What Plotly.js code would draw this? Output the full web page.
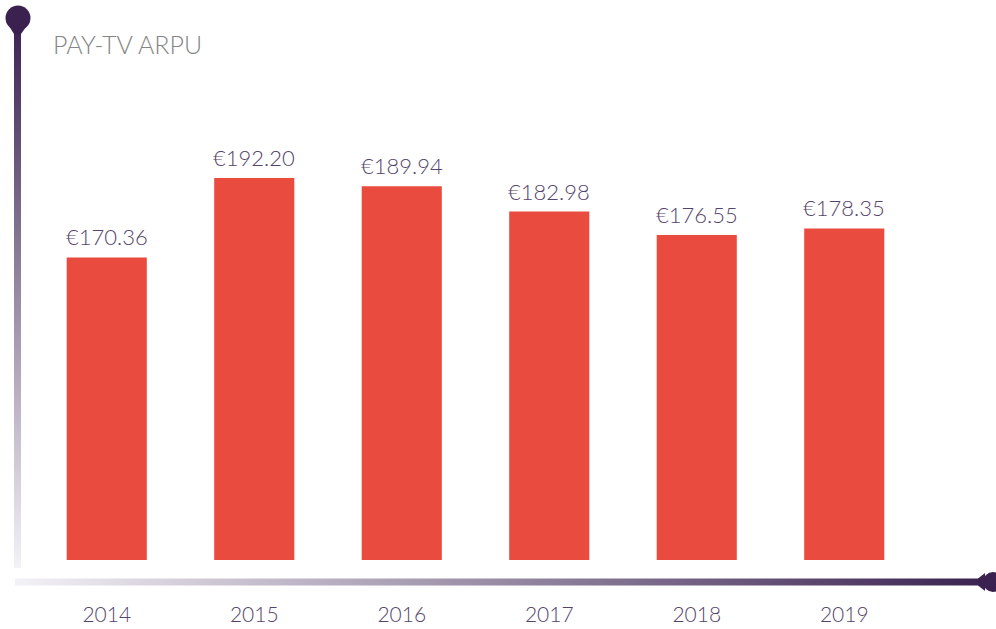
<!DOCTYPE html>
<html>
<head>
<meta charset="utf-8">
<script src="https://cdn.plot.ly/plotly-3.0.1.min.js"></script>
<style>html,body{margin:0;padding:0;background:#fff;}#chart{width:996px;height:629px;}</style>
</head>
<body>
<div id="chart"></div>
<script>
const years = ["2014", "2015", "2016", "2017", "2018", "2019"];
const arpu = [170.36, 192.20, 189.94, 182.98, 176.55, 178.35];
const valueLabels = ["€170.36", "€192.20", "€189.94", "€182.98", "€176.55", "€178.35"];
const chartTitle = "PAY-TV ARPU";

const W = 996, H = 629;
const M = {l: 33, r: 78, t: 100, b: 69};
const pw = W - M.l - M.r, ph = H - M.t - M.b;

const dark = "#3a2150";
const light = "#f3f2f6";
const deco = `<svg xmlns="http://www.w3.org/2000/svg" width="${W}" height="${H}" viewBox="0 0 ${W} ${H}">
<defs>
<linearGradient id="gv" x1="0" y1="0" x2="0" y2="1"><stop offset="0" stop-color="${dark}"/><stop offset="1" stop-color="${light}"/></linearGradient>
<linearGradient id="gh" x1="0" y1="0" x2="1" y2="0"><stop offset="0" stop-color="${light}"/><stop offset="1" stop-color="${dark}"/></linearGradient>
</defs>
<rect x="14" y="18" width="7" height="550" fill="url(#gv)"/>
<rect x="15" y="578.5" width="975" height="7" fill="url(#gh)"/>
<circle cx="18" cy="18" r="12.5" fill="${dark}"/>
<path d="M6.5 22 L14 34 L21 34 L29.5 22 Z" fill="${dark}"/>
<circle cx="993" cy="582" r="10" fill="${dark}"/>
<path d="M985 573 L978 578.5 L978 585.5 L985 591 Z" fill="${dark}"/>
</svg>`;
const decoSrc = "data:image/svg+xml;charset=utf-8," + encodeURIComponent(deco);

const textColor = "#55446c";
const fontFam = "Lato, 'Open Sans', sans-serif";
const annotations = years.map((y, i) => ({
  x: i, y: arpu[i], xref: "x", yref: "y",
  text: valueLabels[i], showarrow: false,
  yanchor: "bottom", yshift: 5,
  font: {family: fontFam, size: 22, color: textColor, weight: 300}
}));

const data = [{
  type: "bar",
  x: years,
  y: arpu,
  marker: {color: "#e94b3e"},
  hoverinfo: "x+y"
}];

const layout = {
  width: W, height: H,
  margin: M,
  paper_bgcolor: "#ffffff",
  plot_bgcolor: "rgba(0,0,0,0)",
  showlegend: false,
  bargap: 0.457,
  title: {
    text: chartTitle,
    xref: "container", yref: "container",
    x: 53 / W, xanchor: "left",
    y: 1 - 45 / H, yanchor: "middle",
    font: {family: fontFam, size: 25, color: "#858585", weight: 300}
  },
  xaxis: {
    type: "category",
    range: [-0.5, years.length - 0.5],
    autorange: false,
    showgrid: false, zeroline: false, showline: false,
    ticks: "outside", ticklen: 36, tickcolor: "rgba(0,0,0,0)",
    tickfont: {family: fontFam, size: 21, color: textColor, weight: 300},
    fixedrange: true
  },
  yaxis: {
    range: [87.1, 213.7],
    autorange: false,
    showgrid: false, zeroline: false, showline: false,
    showticklabels: false, ticks: "",
    fixedrange: true
  },
  annotations: annotations,
  images: [{
    source: decoSrc,
    xref: "paper", yref: "paper",
    x: -M.l / pw, y: (H - M.b) / ph,
    sizex: W / pw, sizey: H / ph,
    xanchor: "left", yanchor: "top",
    sizing: "stretch", layer: "below"
  }]
};

Plotly.newPlot("chart", data, layout, {displayModeBar: false, staticPlot: true});
</script>
</body>
</html>
